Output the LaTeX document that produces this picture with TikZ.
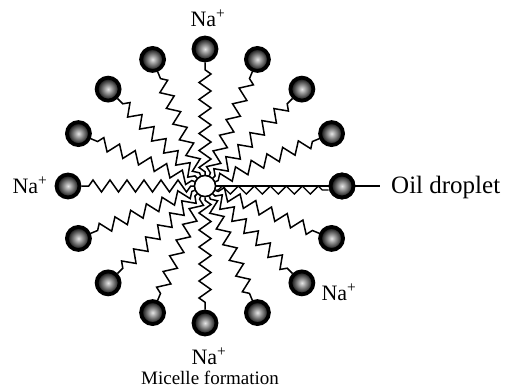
\documentclass[tikz,border=0pt]{standalone}
\usepackage{fontspec}
\setmainfont{Liberation Serif}
\usetikzlibrary{decorations.pathmorphing,calc}
\begin{document}
\begin{tikzpicture}[x=1pt,y=-1pt,
  head/.style={circle,minimum size=23pt,inner sep=0pt,draw=black,line width=3.8pt,
    inner color=gray!20,outer color=black},
  core/.style={circle,minimum size=21pt,inner sep=0pt,draw=black,line width=1.5pt,fill=white},
  tail/.style={line width=1.5pt,line join=miter,decorate,
    decoration={zigzag,segment length=17pt,amplitude=6pt,pre length=3pt,post length=2pt}},
  ion/.style={font=\fontsize{22}{22}\selectfont,inner sep=0pt},
  lbl/.style={font=\fontsize{25}{25}\selectfont,inner sep=0pt}]
\useasboundingbox (0,0) rectangle (508,389);

% hydrocarbon tails and ionic heads around the central droplet
\node[core] (c) at (205,186) {};
\foreach \i in {1,...,15}{
  \node[head] (h\i) at ($(205,186)+({22.5*\i}:137)$) {};
  \draw[tail] (c) -- (h\i);
}
% the tail pointing to the oil droplet: saw-tooth on a straight line
\node[head] (h0) at (342,186) {};
\draw[line width=1.4pt] (c) -- (h0);
\draw[line width=1.4pt,line join=miter,decorate,
  decoration={zigzag,segment length=16pt,amplitude=4pt,pre length=2pt,post length=2pt}]
  ([yshift=-4pt]c.east) -- ([yshift=-4pt]h0.west);
\node[core] at (c) {};
\node[head] at (h0) {};

% labels
\coordinate (oilend) at (380,186);
\draw[line width=1.2pt] (h0) -- (oilend);
\node[lbl,anchor=west] (oil) at (391,187) {Oil droplet};
\node[ion] (na1) at (208,18) {Na\textsuperscript{+}};
\node[ion] (na2) at (30,185) {Na\textsuperscript{+}};
\node[ion] (na3) at (339,292) {Na\textsuperscript{+}};
\node[ion] (na4) at (209,356) {Na\textsuperscript{+}};
\node[font=\fontsize{19}{19}\selectfont,inner sep=0pt] (cap) at (210,378) {Micelle formation};
\end{tikzpicture}
\end{document}
